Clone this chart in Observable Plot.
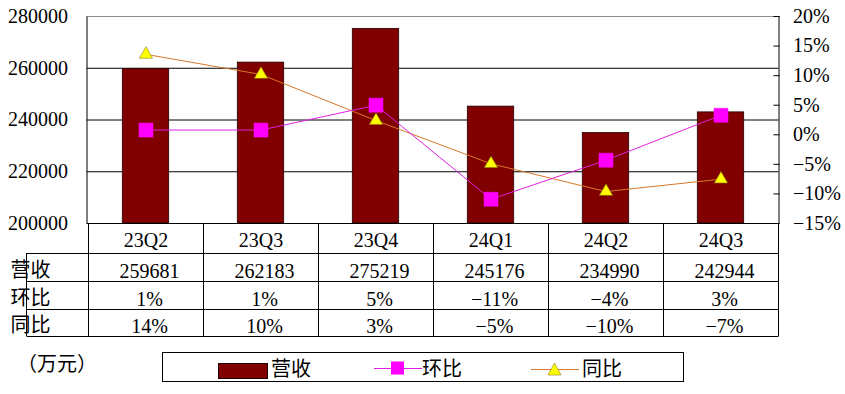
<!DOCTYPE html>
<html><head><meta charset="utf-8">
<script src="https://cdn.jsdelivr.net/npm/d3@7"></script>
<script src="https://cdn.jsdelivr.net/npm/@observablehq/plot@0.6"></script>
<style>
body{margin:0;background:#fff;}
#wrap{position:relative;width:845px;height:394px;font-family:"Liberation Serif","Noto Sans CJK SC",serif;color:#000;overflow:hidden;}
#chart{position:absolute;left:0;top:0;}
.abs{position:absolute;white-space:nowrap;line-height:1;}
#legend{position:absolute;left:162px;top:352px;width:522px;height:30px;border:1px solid #000;box-sizing:border-box;}
#legend .t{position:absolute;top:5px;font-size:20px;line-height:20px;font-family:"Noto Sans CJK SC",sans-serif;}
</style></head><body>
<div id="wrap">
  <div id="chart"></div>
  <div class="abs" id="unit" style="left:17px;top:353px;font-size:20px;font-family:'Noto Sans CJK SC',sans-serif;">（万元）</div>
  <div id="legend"></div>
</div>
<script>
// ---- data ----
const quarters = ["23Q2", "23Q3", "23Q4", "24Q1", "24Q2", "24Q3"];
const revenue = [259681, 262183, 275219, 245176, 234990, 242944];
const qoq = [0.8, 0.8, 5.0, -10.9, -4.3, 3.3];      // 环比 %
const yoy = [13.6, 10.2, 2.4, -4.9, -9.6, -7.5];     // 同比 %
const qoqLabels = ["1%", "1%", "5%", "−11%", "−4%", "3%"];
const yoyLabels = ["14%", "10%", "3%", "−5%", "−10%", "−7%"];
const leftTicks = [200000, 220000, 240000, 260000, 280000];
const rightTicks = [-15, -10, -5, 0, 5, 10, 15, 20];
const seriesNames = ["营收", "环比", "同比"];
const unitLabel = "（万元）";

// ---- build ----
const FONT = '"Liberation Serif","Noto Sans CJK SC",serif';
const BAR = "#800000", MAG = "#FF00FF", MAGLINE = "#E020E0", ORG = "#D8782A", YEL = "#FFFF00";
const yMin = leftTicks[0], yMax = leftTicks[leftTicks.length - 1];
const pMin = rightTicks[0], pMax = rightTicks[rightTicks.length - 1];
const toY = p => yMin + (p - pMin) / (pMax - pMin) * (yMax - yMin);
const pctLabel = p => (p < 0 ? "−" : "") + Math.abs(p) + "%";
const rightLabelByY = new Map(rightTicks.map(p => [toY(p), pctLabel(p)]));

const data = quarters.map((q, i) => ({q, rev: revenue[i], qoq: qoq[i], yoy: yoy[i], qoqL: qoqLabels[i], yoyL: yoyLabels[i]}));

function tableMark(index, scales) {
  const x = scales.x, y = scales.y;
  const step = x(quarters[1]) - x(quarters[0]);
  const x0 = x(quarters[0]);
  const xEnd = x0 + step * quarters.length;
  const top = y(yMin);
  const rows = [top, top + 30, top + 58, top + 86, top + 113];
  const leftX = 26.5;
  const g = d3.create("svg:g");
  const lines = g.append("g").attr("stroke", "#000").attr("stroke-width", 1).attr("fill", "none");
  for (let i = 0; i <= quarters.length; i++) {
    const xx = Math.round(x0 + i * step) + 0.5;
    lines.append("line").attr("x1", xx).attr("x2", xx).attr("y1", rows[0]).attr("y2", rows[4]);
  }
  lines.append("line").attr("x1", leftX).attr("x2", leftX).attr("y1", rows[1]).attr("y2", rows[4]);
  for (let r = 1; r <= 4; r++) {
    const yy = Math.round(rows[r]) + 0.5;
    lines.append("line").attr("x1", leftX).attr("x2", Math.round(xEnd) + 0.5).attr("y1", yy).attr("y2", yy);
  }
  const txt = g.append("g").attr("fill", "#000").attr("font-size", 20);
  const rowVals = [data.map(d => String(d.rev)), data.map(d => d.qoqL), data.map(d => d.yoyL)];
  seriesNames.forEach((name, r) => {
    txt.append("text").attr("x", leftX + 4).attr("y", rows[r + 2] - 4)
      .attr("font-family", '"Noto Sans CJK SC",sans-serif').text(name);
    rowVals[r].forEach((v, i) => {
      txt.append("text").attr("x", x0 + (i + 0.5) * step + 4).attr("y", rows[r + 2] - 3)
        .attr("text-anchor", "middle").text(v);
    });
  });
  return g.node();
}

const plot = Plot.plot({
  width: 845, height: 345,
  marginLeft: 86.5, marginRight: 66.5, marginTop: 16, marginBottom: 122,
  style: {fontFamily: FONT, fontSize: "20px", color: "#000", background: "transparent", overflow: "visible"},
  x: {domain: quarters, padding: 0, axis: null},
  y: {domain: [yMin, yMax], axis: null},
  marks: [
    Plot.ruleY(leftTicks.slice(1, -1), {stroke: "#000", strokeWidth: 1}),
    Plot.barY(data, {x: "q", y1: yMin, y2: "rev", fill: BAR, stroke: "#200000", strokeWidth: 0.8, insetLeft: 34.3, insetRight: 34.3}),
    Plot.frame({stroke: "#000"}),
    Plot.ruleY([yMax], {stroke: "#8c8c8c", strokeWidth: 1}),
    Plot.line(data, {x: "q", y: d => toY(d.yoy), stroke: ORG, strokeWidth: 1}),
    Plot.line(data, {x: "q", y: d => toY(d.qoq), stroke: MAGLINE, strokeWidth: 1}),
    Plot.dot(data, {x: "q", y: d => toY(d.qoq), symbol: "square", r: 7.9, fill: MAG, stroke: MAG, strokeWidth: 0.5}),
    Plot.dot(data, {x: "q", y: d => toY(d.yoy), symbol: "triangle", r: 4.9, fill: YEL, stroke: "#8a7a10", strokeWidth: 0.6}),
    Plot.axisY(leftTicks, {anchor: "left", label: null, tickSize: 0, tickPadding: 19, tickFormat: d3.format("d")}),
    Plot.axisY(rightTicks.map(toY), {anchor: "right", label: null, tickSize: 6, tickPadding: 14, dx: -6, stroke: "#000", tickFormat: v => rightLabelByY.get(v)}),
    Plot.axisX(quarters, {anchor: "bottom", label: null, tickSize: 0, tickPadding: 9}),
    tableMark
  ]
});
document.getElementById("chart").appendChild(plot);

// ---- legend ----
const lg = document.getElementById("legend");
const L = 162; // legend left in page coords
const sw = `<svg class="abs" style="left:${218 - L - 1}px;top:${363 - 353}px" width="50" height="16"><rect x="0.5" y="0.5" width="49" height="15" fill="${BAR}" stroke="#200000"/></svg>
<div class="t" style="left:${270 - L}px">${seriesNames[0]}</div>
<svg class="abs" style="left:${373 - L}px;top:${360 - 353}px" width="48" height="16"><line x1="0" x2="48" y1="8.5" y2="8.5" stroke="${MAGLINE}"/><rect x="17" y="1.5" width="13" height="13" fill="${MAG}"/></svg>
<div class="t" style="left:${421 - L}px">${seriesNames[1]}</div>
<svg class="abs" style="left:${530 - L}px;top:${360 - 353}px" width="48" height="16"><line x1="0" x2="48" y1="9.5" y2="9.5" stroke="${ORG}"/><path d="M23.5,3 L30,15 L17,15 Z" fill="${YEL}" stroke="#8a7a10" stroke-width="0.6"/></svg>
<div class="t" style="left:${581 - L}px">${seriesNames[2]}</div>`;
lg.innerHTML = sw;
document.getElementById("unit").textContent = unitLabel;
</script>
</body></html>
